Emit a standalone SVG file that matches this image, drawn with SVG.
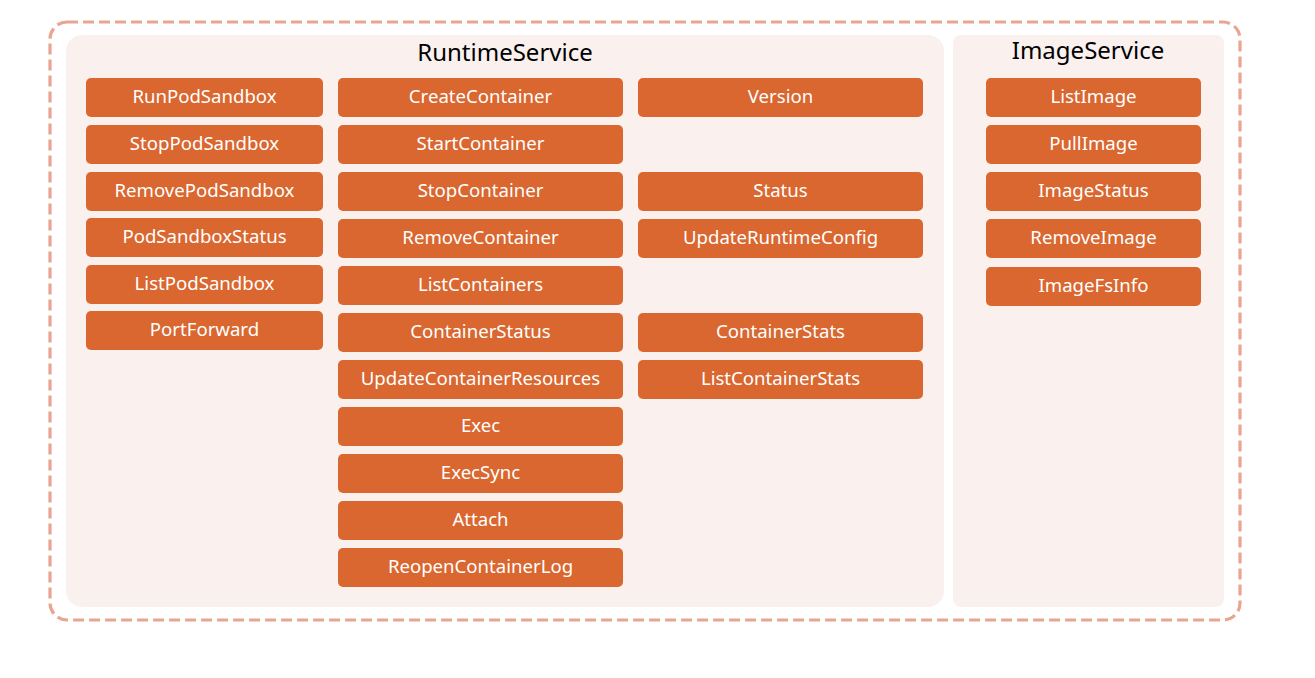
<svg xmlns="http://www.w3.org/2000/svg" width="1315" height="678" viewBox="0 0 1315 678">
<style>
.panel{fill:#FAF0EE}
.b rect{fill:#D9672F}
.b text{fill:#FFFFFF;font-family:"Noto Sans","Open Sans",sans-serif;font-size:18.6px;text-anchor:middle}
.t{fill:#000;font-family:"Noto Sans","Open Sans",sans-serif;font-size:24px;text-anchor:middle}
</style>
<rect width="1315" height="678" fill="#FFFFFF"/>
<rect x="50" y="22" width="1190" height="598" rx="17" fill="none" stroke="#E8A590" stroke-width="3.2" stroke-dasharray="11,5"/>
<g id="runtime-service">
<rect class="panel" x="66" y="35" width="878" height="572" rx="16"/>
<text class="t" x="505" y="61">RuntimeService</text>
</g>
<g id="image-service">
<rect class="panel" x="953" y="35" width="271" height="572" rx="8"/>
<text class="t" x="1088" y="59">ImageService</text>
</g>
<g id="RunPodSandbox" class="b"><rect x="86" y="78" width="237" height="39" rx="5"/><text x="204.5" y="103">RunPodSandbox</text></g>
<g id="StopPodSandbox" class="b"><rect x="86" y="125" width="237" height="39" rx="5"/><text x="204.5" y="150">StopPodSandbox</text></g>
<g id="RemovePodSandbox" class="b"><rect x="86" y="172" width="237" height="39" rx="5"/><text x="204.5" y="197">RemovePodSandbox</text></g>
<g id="PodSandboxStatus" class="b"><rect x="86" y="218" width="237" height="39" rx="5"/><text x="204.5" y="243">PodSandboxStatus</text></g>
<g id="ListPodSandbox" class="b"><rect x="86" y="265" width="237" height="39" rx="5"/><text x="204.5" y="290">ListPodSandbox</text></g>
<g id="PortForward" class="b"><rect x="86" y="311" width="237" height="39" rx="5"/><text x="204.5" y="336">PortForward</text></g>

<g id="CreateContainer" class="b"><rect x="338" y="78" width="285" height="39" rx="5"/><text x="480.5" y="103">CreateContainer</text></g>
<g id="StartContainer" class="b"><rect x="338" y="125" width="285" height="39" rx="5"/><text x="480.5" y="150">StartContainer</text></g>
<g id="StopContainer" class="b"><rect x="338" y="172" width="285" height="39" rx="5"/><text x="480.5" y="197">StopContainer</text></g>
<g id="RemoveContainer" class="b"><rect x="338" y="219" width="285" height="39" rx="5"/><text x="480.5" y="244">RemoveContainer</text></g>
<g id="ListContainers" class="b"><rect x="338" y="266" width="285" height="39" rx="5"/><text x="480.5" y="291">ListContainers</text></g>
<g id="ContainerStatus" class="b"><rect x="338" y="313" width="285" height="39" rx="5"/><text x="480.5" y="338">ContainerStatus</text></g>
<g id="UpdateContainerResources" class="b"><rect x="338" y="360" width="285" height="39" rx="5"/><text x="480.5" y="385">UpdateContainerResources</text></g>
<g id="Exec" class="b"><rect x="338" y="407" width="285" height="39" rx="5"/><text x="480.5" y="432">Exec</text></g>
<g id="ExecSync" class="b"><rect x="338" y="454" width="285" height="39" rx="5"/><text x="480.5" y="479">ExecSync</text></g>
<g id="Attach" class="b"><rect x="338" y="501" width="285" height="39" rx="5"/><text x="480.5" y="526">Attach</text></g>
<g id="ReopenContainerLog" class="b"><rect x="338" y="548" width="285" height="39" rx="5"/><text x="480.5" y="573">ReopenContainerLog</text></g>

<g id="Version" class="b"><rect x="638" y="78" width="285" height="39" rx="5"/><text x="780.5" y="103">Version</text></g>
<g id="Status" class="b"><rect x="638" y="172" width="285" height="39" rx="5"/><text x="780.5" y="197">Status</text></g>
<g id="UpdateRuntimeConfig" class="b"><rect x="638" y="219" width="285" height="39" rx="5"/><text x="780.5" y="244">UpdateRuntimeConfig</text></g>
<g id="ContainerStats" class="b"><rect x="638" y="313" width="285" height="39" rx="5"/><text x="780.5" y="338">ContainerStats</text></g>
<g id="ListContainerStats" class="b"><rect x="638" y="360" width="285" height="39" rx="5"/><text x="780.5" y="385">ListContainerStats</text></g>

<g id="ListImage" class="b"><rect x="986" y="78" width="215" height="39" rx="5"/><text x="1093.5" y="103">ListImage</text></g>
<g id="PullImage" class="b"><rect x="986" y="125" width="215" height="39" rx="5"/><text x="1093.5" y="150">PullImage</text></g>
<g id="ImageStatus" class="b"><rect x="986" y="172" width="215" height="39" rx="5"/><text x="1093.5" y="197">ImageStatus</text></g>
<g id="RemoveImage" class="b"><rect x="986" y="219" width="215" height="39" rx="5"/><text x="1093.5" y="244">RemoveImage</text></g>
<g id="ImageFsInfo" class="b"><rect x="986" y="267" width="215" height="39" rx="5"/><text x="1093.5" y="292">ImageFsInfo</text></g>
<g id="connectors"></g>
</svg>
